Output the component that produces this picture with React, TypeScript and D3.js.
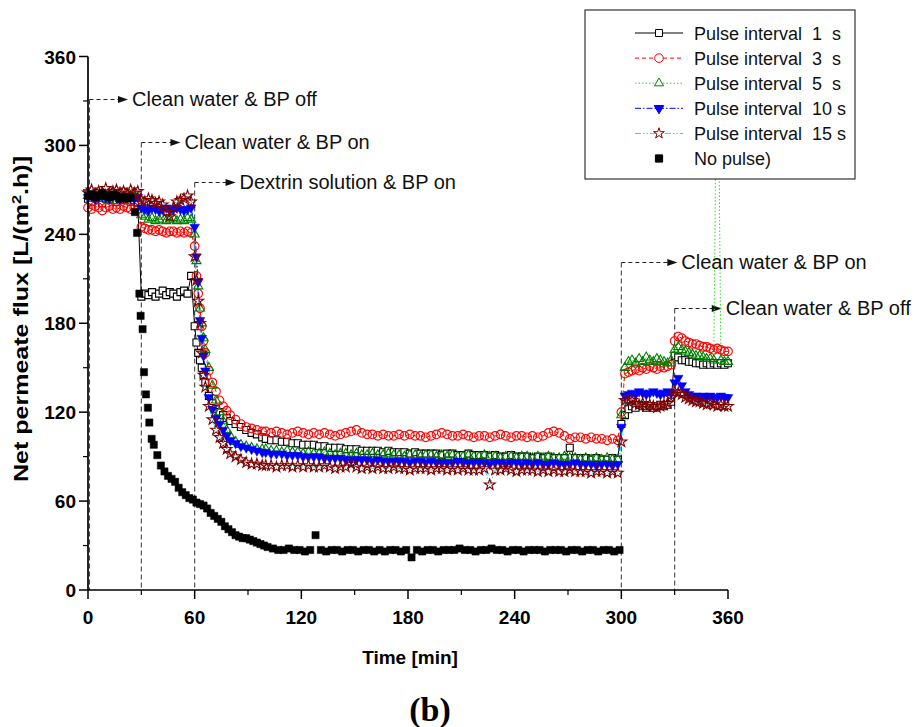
import React from 'react';
import * as d3 from 'd3';

// ---------- DATA ----------
const T_PULSE = [
  0, 2, 4, 6, 8, 10, 12, 14, 16, 18, 20, 22, 24, 26, 28,
  30, 32, 34, 36, 38, 40, 42, 44, 46, 48, 50, 52, 54, 56, 58,
  60, 61, 62, 63, 64, 65, 66, 68, 70, 72, 74, 76, 78, 80, 83, 86, 89, 92, 95, 98,
  100, 103, 106, 109, 112, 115, 118, 121, 124, 127,
  130, 133, 136, 139, 142, 145, 148, 151, 154, 157,
  160, 163, 166, 169, 172, 175, 178, 181, 184, 187,
  190, 193, 196, 199, 202, 205, 208, 211, 214, 217,
  220, 223, 226, 229, 232, 235, 238, 241, 244, 247,
  250, 253, 256, 259, 262, 265, 268, 271, 274, 277,
  280, 283, 286, 289, 292, 295, 298,
  300, 302, 304, 306, 308, 310, 312, 314, 316, 318, 320, 322, 324, 326, 328,
  330, 332, 334, 336, 338, 340, 342, 344, 346, 348, 350, 352, 354, 356, 358, 360,
];

const FLUX_1S = [
  264, 262, 265, 263, 261, 264, 266, 263, 262, 264, 263, 265, 262, 263, 261,
  198, 200, 199, 201, 198, 200, 202, 199, 201, 200, 198, 201, 202, 200, 212,
  178, 167, 160, 155, 150, 145, 140, 131, 126, 122, 120, 118, 116, 114, 112, 110, 108, 106, 105, 103,
  102, 101, 101, 100, 100, 99, 99, 98, 98, 98,
  97, 97, 96, 96, 96, 95, 95, 95, 94, 94,
  94, 94, 93, 94, 93, 93, 93, 92, 93, 92,
  92, 92, 92, 91, 92, 92, 91, 91, 92, 91,
  91, 91, 90, 91, 90, 90, 91, 90, 90, 90,
  89, 90, 89, 90, 89, 89, 89, 96, 89, 89,
  89, 88, 89, 88, 88, 89, 88,
  112, 118, 122, 124, 123, 125, 124, 123, 124, 123, 124, 125, 124, 125, 127,
  158, 157, 155, 155, 154, 154, 153, 153, 152, 153, 152, 153, 152, 153, 152, 153,
];

const FLUX_3S = [
  258, 257, 259, 258, 256, 258, 259, 257, 258, 257, 259, 258, 257, 258, 257,
  245, 244, 243, 243, 242, 243, 242, 241, 242, 242, 241, 242, 241, 242, 241,
  232, 212, 200, 190, 178, 168, 160, 148, 140, 134, 128, 124, 121, 118, 115, 112, 110, 109, 108, 107,
  107, 106, 107, 106, 105, 106, 107, 106, 105, 106,
  105, 106, 105, 104, 105, 106, 107, 108, 106, 105,
  105, 104, 105, 104, 104, 105, 104, 105, 104, 104,
  103, 104, 105, 106, 105, 104, 104, 105, 104, 103,
  104, 104, 103, 104, 105, 104, 103, 104, 104, 103,
  104, 103, 104, 106, 107, 106, 104, 102, 103, 103,
  102, 103, 102, 102, 101, 102, 101,
  120, 146, 147, 148, 149, 148, 150, 149, 151, 150, 149, 151, 150, 151, 152,
  168, 171, 170, 168, 167, 166, 166, 165, 164, 164, 163, 162, 163, 162, 161, 161,
];

const FLUX_5S = [
  266, 264, 265, 266, 264, 265, 263, 265, 266, 264, 265, 264, 266, 265, 264,
  253, 252, 250, 251, 249, 250, 252, 249, 250, 251, 249, 250, 249, 251, 250,
  240, 222, 205, 190, 180, 170, 162, 150, 138, 128, 120, 114, 108, 104, 100, 98, 97, 96, 95, 95,
  95, 94, 94, 93, 94, 93, 93, 92, 93, 92,
  92, 93, 92, 91, 92, 92, 91, 92, 91, 91,
  92, 91, 91, 92, 91, 91, 90, 91, 91, 90,
  91, 91, 90, 91, 90, 91, 90, 90, 91, 90,
  90, 91, 90, 90, 89, 90, 90, 89, 90, 90,
  89, 90, 89, 90, 89, 89, 90, 89, 89, 88,
  89, 88, 89, 88, 89, 88, 88,
  118, 150, 154, 155, 153, 156, 154, 157, 155, 154, 156, 155, 154, 153, 155,
  162, 164, 162, 161, 160, 159, 158, 158, 157, 156, 156, 155, 420, 155, 154, 154,
];

const FLUX_10S = [
  265, 266, 264, 265, 266, 265, 264, 266, 265, 264, 265, 266, 265, 264, 265,
  258, 257, 256, 258, 257, 256, 257, 258, 256, 257, 258, 257, 256, 257, 258,
  245, 225, 208, 182, 170, 158, 148, 130, 122, 116, 112, 108, 104, 101, 99, 97, 96, 95, 94, 93,
  93, 92, 92, 92, 91, 91, 91, 90, 90, 90,
  90, 89, 89, 89, 89, 88, 88, 88, 88, 88,
  87, 88, 87, 87, 87, 87, 87, 86, 87, 87,
  86, 87, 86, 86, 86, 86, 87, 86, 86, 86,
  86, 86, 85, 86, 86, 85, 86, 86, 85, 86,
  85, 86, 85, 85, 86, 85, 85, 85, 86, 85,
  85, 85, 84, 85, 85, 84, 85,
  110, 131, 132, 133, 132, 134, 133, 132, 133, 134, 133, 132, 133, 134, 133,
  140, 143, 138, 134, 132, 131, 131, 130, 131, 130, 131, 130, 130, 131, 130, 130,
];

const FLUX_15S = [
  268, 270, 267, 269, 268, 271, 267, 269, 270, 268, 269, 267, 270, 268, 269,
  263, 262, 264, 263, 261, 262, 260, 255, 252, 258, 262, 263, 264, 266, 262,
  225, 209, 195, 180, 160, 145, 137, 124, 115, 108, 103, 99, 95, 92, 90, 88, 86, 85, 85, 84,
  84, 84, 83, 84, 84, 83, 84, 83, 84, 83,
  83, 84, 83, 82, 83, 83, 85, 83, 82, 83,
  82, 83, 82, 82, 83, 82, 82, 81, 82, 82,
  82, 81, 82, 82, 81, 82, 81, 82, 81, 81,
  81, 82, 71, 81, 81, 82, 81, 80, 81, 81,
  81, 80, 81, 80, 81, 80, 80, 81, 80, 80,
  80, 79, 80, 80, 79, 80, 79,
  100, 128, 127, 128, 126, 125, 126, 124, 125, 124, 123, 124, 125, 126, 130,
  134, 133, 132, 130, 129, 128, 127, 127, 126, 125, 126, 125, 124, 125, 124, 124,
];

const T_NOPULSE = [
  0, 2, 4, 6, 8, 10, 12, 14, 16, 18, 20, 22, 24,
  26.4, 27.6, 28.9, 29.6, 30.7, 31.5, 32.6, 33.7, 34.5, 35.8,
  37, 39, 41, 43, 45, 47, 49, 51, 53, 55, 57, 59, 61, 63, 65, 67, 69, 71, 73, 75,
  77, 79, 81, 83, 85, 87, 89, 91, 93, 95, 97, 99,
  101,
  104, 107, 110, 113, 116, 119, 122, 125, 128, 131,
  134, 137, 140, 143, 146, 149, 152, 155, 158, 161,
  164, 167, 170, 173, 176, 179, 182, 185, 188, 191,
  194, 197, 200, 203, 206, 209, 212, 215, 218, 221,
  224, 227, 230, 233, 236, 239, 242, 245, 248, 251,
  254, 257, 260, 263, 266, 269, 272, 275, 278, 281,
  284, 287, 290, 293, 296, 299,
];

const FLUX_NOPULSE = [
  266, 267, 265, 266, 268, 266, 265, 267, 266, 264, 265, 264, 265,
  255, 241, 200, 185, 176, 147, 132, 123, 113, 102,
  98, 91, 84, 80, 77, 75, 73, 69, 66, 64, 62, 61, 59, 58, 57, 55, 52, 50, 48, 46,
  43, 41, 39, 37, 36, 35, 35, 34, 33, 32, 31, 30,
  29,
  28, 27, 27, 28, 27, 27, 26, 27, 37, 27,
  26, 27, 27, 26, 27, 27, 26, 27, 27, 26,
  27, 26, 27, 27, 26, 27, 22, 27, 26, 27,
  27, 26, 27, 27, 27, 28, 27, 27, 26, 27,
  27, 28, 27, 27, 26, 27, 27, 26, 27, 27,
  27, 26, 27, 27, 27, 26, 27, 27, 26, 27,
  27, 26, 27, 27, 26, 27,
];

const X_TICKS = [0, 60, 120, 180, 240, 300, 360];
const X_MINOR = [30, 90, 150, 210, 270, 330];
const Y_TICKS = [0, 60, 120, 180, 240, 300, 360];
const Y_MINOR = [30, 90, 150, 210, 270, 330];

const LEGEND_LABELS = [
  'Pulse interval  1  s',
  'Pulse interval  3  s',
  'Pulse interval  5  s',
  'Pulse interval  10 s',
  'Pulse interval  15 s',
  'No pulse)',
];

const EVENT_TIMES = [0, 30, 60, 300, 330];
const EVENT_LEVELS = [331, 302, 275, 221, 190];
const EVENT_ARROW_END = [22.5, 52, 83, 331.5, 356.5];
const EVENT_LABELS = [
  'Clean water & BP off',
  'Clean water & BP on',
  'Dextrin solution & BP on',
  'Clean water & BP on',
  'Clean water & BP off',
];

// ---------- STYLES ----------
const FONT = 'Liberation Sans, Arial, Helvetica, sans-serif';

type MarkerKind = 'square' | 'circle' | 'triangle' | 'triangleDown' | 'star' | 'filledSquare';

interface SeriesStyle {
  lineColor: string | null;
  dash: string;
  marker: MarkerKind;
  markerStroke: string;
  markerFill: string;
}

const STYLES: SeriesStyle[] = [
  { lineColor: '#000000', dash: '', marker: 'square', markerStroke: '#000000', markerFill: '#ffffff' },
  { lineColor: '#ff0000', dash: '4,3', marker: 'circle', markerStroke: '#ff0000', markerFill: 'none' },
  { lineColor: '#22dd22', dash: '1.5,2', marker: 'triangle', markerStroke: '#008000', markerFill: 'none' },
  { lineColor: '#0000ff', dash: '6,2,1.5,2', marker: 'triangleDown', markerStroke: '#0000ff', markerFill: '#0000ff' },
  { lineColor: '#00e5ee', dash: '6,2,1.5,2,1.5,2', marker: 'star', markerStroke: '#800000', markerFill: 'none' },
  { lineColor: null, dash: '', marker: 'filledSquare', markerStroke: '#000000', markerFill: '#000000' },
];

const SERIES_T = [T_PULSE, T_PULSE, T_PULSE, T_PULSE, T_PULSE, T_NOPULSE];
const SERIES_V = [FLUX_1S, FLUX_3S, FLUX_5S, FLUX_10S, FLUX_15S, FLUX_NOPULSE];

function markerPath(kind: MarkerKind): string {
  const s = d3.symbol();
  switch (kind) {
    case 'square':
      return s.type(d3.symbolSquare).size(49)() as string;
    case 'filledSquare':
      return s.type(d3.symbolSquare).size(52)() as string;
    case 'circle':
      return s.type(d3.symbolCircle).size(58)() as string;
    case 'triangle':
      return s.type(d3.symbolTriangle).size(36)() as string;
    case 'triangleDown':
      return s.type(d3.symbolTriangle).size(40)() as string;
    case 'star':
      return s.type(d3.symbolStar).size(36)() as string;
  }
}

const W = 917;
const H = 727;

export default function App() {
  const x = d3.scaleLinear().domain([0, 360]).range([88, 728]);
  const y = d3.scaleLinear().domain([0, 360]).range([590, 56.5]);

  const series = SERIES_V.map((vals, i) => {
    const ts = SERIES_T[i];
    const n = Math.min(ts.length, vals.length);
    const pts: [number, number][] = [];
    for (let k = 0; k < n; k++) pts.push([ts[k], vals[k]]);
    return pts;
  });

  const line = d3
    .line<[number, number]>()
    .x((d) => x(d[0]))
    .y((d) => y(d[1]));

  const axisX0 = x(0);
  const axisY0 = y(0);

  const legendX = 585;
  const legendY = 10;
  const legendW = 270;
  const legendH = 169;
  const rowY = (i: number) => 33 + i * 25.1;

  return (
    <svg
      width={W}
      height={H}
      viewBox={`0 0 ${W} ${H}`}
      style={{ position: 'absolute', left: 0, top: 0, background: '#fff' }}
      xmlns="http://www.w3.org/2000/svg"
    >
      <defs>
        <clipPath id="plotClip">
          <rect x={78} y={y(360)} width={660} height={axisY0 - y(360) + 8} />
        </clipPath>
      </defs>
      <rect x={0} y={0} width={W} height={H} fill="#fff" />

      {/* event annotation lines */}
      {EVENT_TIMES.map((t, i) => {
        const xv = x(t) + (t === 0 ? 1.5 : 0);
        const yl = y(EVENT_LEVELS[i]);
        const xe = x(EVENT_ARROW_END[i]);
        return (
          <g key={'ev' + i}>
            <line x1={xv} y1={yl} x2={xv} y2={axisY0} stroke="#444" strokeWidth={1.1} strokeDasharray="5,3" />
            <line x1={xv} y1={yl} x2={xe - 8} y2={yl} stroke="#222" strokeWidth={1.1} strokeDasharray="4,3" />
            <path d={`M${xe},${yl} L${xe - 10},${yl - 3.5} L${xe - 10},${yl + 3.5} Z`} fill="#111" />
          </g>
        );
      })}

      {/* data */}
      <g clipPath="url(#plotClip)">
        {series.map((pts, i) => {
          const st = STYLES[i];
          if (!st.lineColor) return null;
          return (
            <path
              key={'l' + i}
              d={line(pts) || ''}
              fill="none"
              stroke={st.lineColor}
              strokeWidth={1}
              strokeDasharray={st.dash || undefined}
            />
          );
        })}
        {series.map((pts, i) => {
          const st = STYLES[i];
          const d = markerPath(st.marker);
          const rot = st.marker === 'triangleDown' ? ' rotate(180)' : '';
          return (
            <g key={'m' + i}>
              {pts.map((p, k) => (
                <path
                  key={k}
                  d={d}
                  transform={`translate(${x(p[0])},${y(p[1])})${rot}`}
                  fill={st.markerFill}
                  stroke={st.markerStroke}
                  strokeWidth={st.marker === 'filledSquare' || st.marker === 'triangleDown' ? 0.5 : 1.1}
                />
              ))}
            </g>
          );
        })}
      </g>

      {/* axes */}
      <g>
        <line x1={axisX0} y1={axisY0} x2={x(360)} y2={axisY0} stroke="#000" strokeWidth={1.7} />
        <line x1={axisX0} y1={axisY0} x2={axisX0} y2={y(360)} stroke="#000" strokeWidth={1.7} />
        {X_TICKS.map((t) => (
          <g key={'xt' + t}>
            <line x1={x(t)} y1={axisY0} x2={x(t)} y2={axisY0 + 9} stroke="#000" strokeWidth={1.5} />
            <text
              x={x(t)}
              y={axisY0 + 34}
              textAnchor="middle"
              fontFamily={FONT}
              fontWeight="bold"
              fontSize={19}
            >
              {t}
            </text>
          </g>
        ))}
        {X_MINOR.map((t) => (
          <line key={'xm' + t} x1={x(t)} y1={axisY0} x2={x(t)} y2={axisY0 + 5} stroke="#000" strokeWidth={1.2} />
        ))}
        {Y_TICKS.map((v) => (
          <g key={'yt' + v}>
            <line x1={axisX0 - 9} y1={y(v)} x2={axisX0} y2={y(v)} stroke="#000" strokeWidth={1.5} />
            <text
              x={axisX0 - 12}
              y={y(v) + 7}
              textAnchor="end"
              fontFamily={FONT}
              fontWeight="bold"
              fontSize={19}
            >
              {v}
            </text>
          </g>
        ))}
        {Y_MINOR.map((v) => (
          <line key={'ym' + v} x1={axisX0 - 5} y1={y(v)} x2={axisX0} y2={y(v)} stroke="#000" strokeWidth={1.2} />
        ))}
      </g>

      {/* axis titles */}
      <text x={410} y={664} textAnchor="middle" fontFamily={FONT} fontWeight="bold" fontSize={19}>
        Time [min]
      </text>
      <text
        transform="translate(28,319) rotate(-90)"
        textAnchor="middle"
        fontFamily={FONT}
        fontWeight="bold"
        fontSize={20}
        textLength={326}
        lengthAdjust="spacingAndGlyphs"
      >
        Net permeate flux [L/(m
        <tspan fontSize={13} dy={-7}>2</tspan>
        <tspan dy={7}>.h)]</tspan>
      </text>
      <text x={430} y={721} textAnchor="middle" fontFamily="Liberation Serif, Times New Roman, serif" fontWeight="bold" fontSize={34}>
        (b)
      </text>

      {/* annotation labels */}
      {EVENT_LABELS.map((lab, i) => (
        <text
          key={'el' + i}
          x={x(EVENT_ARROW_END[i]) + 4}
          y={y(EVENT_LEVELS[i]) + 7}
          fontFamily={FONT}
          fontSize={20}
          fill="#111"
        >
          {lab}
        </text>
      ))}

      {/* legend */}
      <g>
        <rect x={legendX} y={legendY} width={legendW} height={legendH} fill="#fff" stroke="#333" strokeWidth={1.2} />
        {LEGEND_LABELS.map((lab, i) => {
          const st = STYLES[i];
          const cy = rowY(i);
          const d = markerPath(st.marker);
          const rot = st.marker === 'triangleDown' ? ' rotate(180)' : '';
          return (
            <g key={'lg' + i}>
              {st.lineColor && (
                <line
                  x1={635}
                  y1={cy}
                  x2={683}
                  y2={cy}
                  stroke={st.lineColor}
                  strokeWidth={1}
                  strokeDasharray={st.dash || undefined}
                />
              )}
              <path
                d={d}
                transform={`translate(659,${cy})${rot}`}
                fill={st.markerFill === 'none' ? '#fff' : st.markerFill}
                stroke={st.markerStroke}
                strokeWidth={1}
              />
              <text
                x={694}
                y={cy + 6.5}
                fontFamily={FONT}
                fontSize={18}
                fill="#111"
                style={{ whiteSpace: 'pre' }}
              >
                {lab}
              </text>
            </g>
          );
        })}
      </g>
    </svg>
  );
}
